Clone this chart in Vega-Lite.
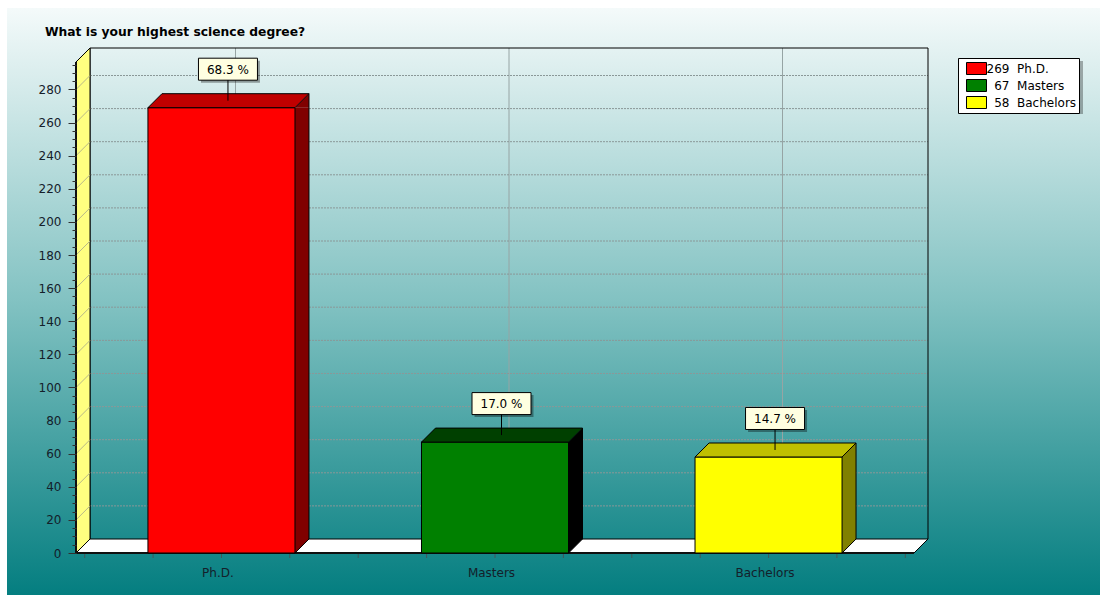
{
  "$schema": "https://vega.github.io/schema/vega-lite/v6.json",
  "width": 838,
  "height": 491,
  "autosize": {"type": "none"},
  "padding": {"left": 90, "top": 48, "right": 172, "bottom": 56},
  "background": "#ffffff",
  "view": {"stroke": null},
  "config": {"font": "DejaVu Sans"},
  "data": {"values": [
    {"degree": "Ph.D.", "count": 269, "pct": 68.3},
    {"degree": "Masters", "count": 67, "pct": 17.0},
    {"degree": "Bachelors", "count": 58, "pct": 14.7}
  ]},
  "resolve": {"scale": {"fill": "independent"}, "axis": {"y": "independent"}},
  "layer": [
    {
      "data": {"values": [{}]},
      "mark": {"type": "point", "shape": "M-502,-531H591V56H-502Z", "size": 4, "filled": true, "opacity": 1, "strokeWidth": 0,
        "fill": {"gradient": "linear", "x1": 0, "y1": 0, "x2": 0, "y2": 1,
          "stops": [{"offset": 0, "color": "#F4FAFA"}, {"offset": 0.5, "color": "#82C2C2"}, {"offset": 1, "color": "#047E80"}]}},
      "encoding": {"x": {"datum": "Masters", "type": "nominal", "axis": null}, "y": {"datum": 0, "type": "quantitative", "axis": null}}
    },
    {
      "data": {"values": [{}]},
      "mark": {"type": "point", "shape": "M-273.5,0V-491M0,0V-491M273.5,0V-491", "size": 4, "filled": false, "opacity": 1, "stroke": "#96A4A4", "strokeWidth": 1},
      "encoding": {"x": {"datum": "Masters", "type": "nominal", "axis": null}, "y": {"datum": 0, "type": "quantitative", "axis": null}}
    },
    {
      "data": {"values": [{}]},
      "mark": {"type": "point", "shape": "M-419,-33.1H419M-419,-66.2H419M-419,-99.3H419M-419,-132.4H419M-419,-165.5H419M-419,-198.6H419M-419,-231.8H419M-419,-264.9H419M-419,-298H419M-419,-331.1H419M-419,-364.2H419M-419,-397.3H419M-419,-430.4H419M-419,-463.5H419", "size": 4, "filled": false, "opacity": 1, "stroke": "#8A9898", "strokeWidth": 1, "strokeDash": [2, 1]},
      "encoding": {"x": {"datum": "Masters", "type": "nominal", "axis": null}, "y": {"datum": 0, "type": "quantitative", "axis": null}}
    },
    {
      "data": {"values": [{}]},
      "mark": {"type": "point", "shape": "M-419,0V-491H419V0", "size": 4, "filled": false, "opacity": 1, "stroke": "#000000", "strokeWidth": 1},
      "encoding": {"x": {"datum": "Masters", "type": "nominal", "axis": null}, "y": {"datum": 0, "type": "quantitative", "axis": null}}
    },
    {
      "data": {"values": [{}]},
      "mark": {"type": "point", "shape": "M-419,0V-491L-433,-477V14Z", "size": 4, "filled": true, "opacity": 1, "fill": "#FFFF80", "stroke": "#000000", "strokeWidth": 1},
      "encoding": {"x": {"datum": "Masters", "type": "nominal", "axis": null}, "y": {"datum": 0, "type": "quantitative", "axis": null}}
    },
    {
      "data": {"values": [{}]},
      "mark": {"type": "point", "shape": "M-419,-33.1L-433,-19.1M-419,-66.2L-433,-52.2M-419,-99.3L-433,-85.3M-419,-132.4L-433,-118.4M-419,-165.5L-433,-151.5M-419,-198.6L-433,-184.6M-419,-231.8L-433,-217.8M-419,-264.9L-433,-250.9M-419,-298L-433,-284M-419,-331.1L-433,-317.1M-419,-364.2L-433,-350.2M-419,-397.3L-433,-383.3M-419,-430.4L-433,-416.4M-419,-463.5L-433,-449.5", "size": 4, "filled": false, "opacity": 1, "stroke": "#B8B888", "strokeWidth": 1},
      "encoding": {"x": {"datum": "Masters", "type": "nominal", "axis": null}, "y": {"datum": 0, "type": "quantitative", "axis": null}}
    },
    {
      "data": {"values": [{}]},
      "mark": {"type": "point", "shape": "M-419,0H419L405,14H-433Z", "size": 4, "filled": true, "opacity": 1, "fill": "#FFFFFF", "stroke": "#000000", "strokeWidth": 1},
      "encoding": {"x": {"datum": "Masters", "type": "nominal", "axis": null}, "y": {"datum": 0, "type": "quantitative", "axis": null}}
    },
    {
      "data": {"values": [{}]},
      "mark": {"type": "point", "shape": "M-433,-477V14H405", "size": 4, "filled": false, "opacity": 1, "stroke": "#101010", "strokeWidth": 2},
      "encoding": {"x": {"datum": "Masters", "type": "nominal", "axis": null}, "y": {"datum": 0, "type": "quantitative", "axis": null}}
    },
    {
      "data": {"values": [{}]},
      "mark": {"type": "point", "shape": "M-424.3,15V19M-355.9,15V19M-287.5,15V19M-219.2,15V19M-150.8,15V19M-82.4,15V19M-14,15V19M54.4,15V19M122.8,15V19M191.2,15V19M259.6,15V19M327.9,15V19M396.3,15V19", "size": 4, "filled": false, "opacity": 1, "stroke": "#40585A", "strokeWidth": 1},
      "encoding": {"x": {"datum": "Masters", "type": "nominal", "axis": null}, "y": {"datum": 0, "type": "quantitative", "axis": null}}
    },
    {
      "data": {"values": [{}]},
      "mark": {"type": "point", "shape": "M452,-478H574V-425H452Z", "size": 4, "filled": true, "opacity": 0.3, "fill": "#000000", "strokeWidth": 0},
      "encoding": {"x": {"datum": "Masters", "type": "nominal", "axis": null}, "y": {"datum": 0, "type": "quantitative", "axis": null}}
    },
    {
      "mark": {"type": "bar", "width": 14, "xOffset": 66.5, "yOffset": 14},
      "encoding": {
        "x": {"field": "degree", "type": "nominal", "sort": null,
          "scale": {"domain": ["Ph.D.", "Masters", "Bachelors"], "paddingInner": 0.4625, "paddingOuter": 0.263}, "axis": null},
        "y": {"field": "count", "type": "quantitative", "scale": {"domain": [0, 296.6], "nice": false, "zero": false},
          "axis": {"orient": "left", "values": [0,5,10,15,20,25,30,35,40,45,50,55,60,65,70,75,80,85,90,95,100,105,110,115,120,125,130,135,140,145,150,155,160,165,170,175,180,185,190,195,200,205,210,215,220,225,230,235,240,245,250,255,260,265,270,275,280,285,290,295],
            "offset": 14, "tickOffset": 14, "tickSize": 4, "tickColor": "#303030", "labels": false, "domain": false, "grid": false, "title": null, "zindex": 1}},
        "y2": {"datum": 0},
        "fill": {"field": "degree", "type": "nominal", "sort": null,
          "scale": {"domain": ["Ph.D.", "Masters", "Bachelors"], "range": ["#800000", "#000000", "#808000"]}, "legend": null}
      }
    },
    {
      "mark": {"type": "point", "shape": "M59.5,14L73.5,0V14Z", "size": 4, "filled": true, "opacity": 1, "strokeWidth": 0},
      "encoding": {
        "x": {"field": "degree", "type": "nominal", "sort": null, "axis": null},
        "y": {"field": "count", "type": "quantitative", "axis": null},
        "fill": {"field": "degree", "type": "nominal", "sort": null,
          "scale": {"domain": ["Ph.D.", "Masters", "Bachelors"], "range": ["#800000", "#000000", "#808000"]}, "legend": null}
      }
    },
    {
      "mark": {"type": "point", "shape": "M59.5,0V14L73.5,0Z", "size": 4, "filled": true, "opacity": 1, "strokeWidth": 0},
      "encoding": {
        "x": {"field": "degree", "type": "nominal", "sort": null, "axis": null},
        "y": {"datum": 0, "type": "quantitative", "axis": null},
        "fill": {"field": "degree", "type": "nominal", "sort": null,
          "scale": {"domain": ["Ph.D.", "Masters", "Bachelors"], "range": ["#800000", "#000000", "#808000"]}, "legend": null}
      }
    },
    {
      "transform": [{"calculate": "'\u200b' + (datum.count < 100 ? '\u2007' : '') + datum.count + '\u00a0\u00a0' + datum.degree", "as": "legendLabel"}],
      "mark": {"type": "bar", "xOffset": -14, "yOffset": 14, "y2Offset": 14, "stroke": "#000000", "strokeWidth": 1},
      "encoding": {
        "x": {"field": "degree", "type": "nominal", "sort": null, "axis": null},
        "y": {"field": "count", "type": "quantitative", "axis": null},
        "y2": {"datum": 0},
        "color": {"field": "legendLabel", "type": "nominal", "sort": null,
          "scale": {"range": ["#FF0000", "#008000", "#FFFF00"]},
          "legend": {"orient": "none", "legendX": 868, "legendY": 10, "title": null, "padding": 2,
            "fillColor": "#FFFFFF", "strokeColor": "#000000",
            "symbolType": "M-1.25,-0.75H1.25V0.75H-1.25Z", "symbolSize": 256, "symbolOffset": 8, "symbolStrokeColor": "#000000", "symbolStrokeWidth": 1, "symbolOpacity": 1,
            "labelFont": "DejaVu Sans", "labelFontSize": 12, "labelColor": "#000000", "labelOffset": 1.5, "rowPadding": 0, "labelLimit": 300}}
      }
    },
    {
      "mark": {"type": "point", "shape": "M-73.5,0H73.5L59.5,14H-87.5Z", "size": 4, "filled": true, "opacity": 1, "stroke": "#000000", "strokeWidth": 1},
      "encoding": {
        "x": {"field": "degree", "type": "nominal", "sort": null, "axis": null},
        "y": {"field": "count", "type": "quantitative",
          "axis": {"orient": "left", "values": [0,20,40,60,80,100,120,140,160,180,200,220,240,260,280], "offset": 14, "tickOffset": 14, "tickSize": 8, "tickColor": "#303030",
            "labelPadding": 7, "labelFont": "DejaVu Sans", "labelFontSize": 12, "labelColor": "#14202A", "labelOverlap": false, "labelFlush": false, "labelBound": false,
            "domain": false, "grid": false, "title": null, "zindex": 1}},
        "fill": {"field": "degree", "type": "nominal", "sort": null,
          "scale": {"domain": ["Ph.D.", "Masters", "Bachelors"], "range": ["#C00000", "#004000", "#C0C000"]}, "legend": null}
      }
    },
    {
      "mark": {"type": "rule", "xOffset": 73.5, "stroke": "#000000", "strokeWidth": 1},
      "encoding": {
        "x": {"field": "degree", "type": "nominal", "sort": null, "axis": null},
        "y": {"field": "count", "type": "quantitative", "axis": null},
        "y2": {"datum": 0}
      }
    },
    {
      "mark": {"type": "point", "shape": "M59.5,14L73.5,0", "size": 4, "filled": false, "opacity": 1, "stroke": "#000000", "strokeWidth": 1},
      "encoding": {
        "x": {"field": "degree", "type": "nominal", "sort": null, "axis": null},
        "y": {"datum": 0, "type": "quantitative", "axis": null}
      }
    },
    {
      "mark": {"type": "text", "xOffset": -17.5, "yOffset": 38, "align": "center", "baseline": "alphabetic", "font": "DejaVu Sans", "fontSize": 12, "color": "#14202A"},
      "encoding": {
        "x": {"field": "degree", "type": "nominal", "sort": null, "axis": null},
        "y": {"datum": 0, "type": "quantitative", "axis": null},
        "text": {"field": "degree"}
      }
    },
    {
      "mark": {"type": "point", "shape": "M-29.5,-11H29.5V11H-29.5Z", "size": 4, "filled": true, "opacity": 0.35, "fill": "#000000", "strokeWidth": 0, "xOffset": -5, "yOffset": -22},
      "encoding": {
        "x": {"field": "degree", "type": "nominal", "sort": null, "axis": null},
        "y": {"field": "count", "type": "quantitative", "axis": null}
      }
    },
    {
      "mark": {"type": "point", "shape": "M-29.5,-11H29.5V11H-29.5Z", "size": 4, "filled": true, "opacity": 1, "fill": "#FFFFE1", "stroke": "#000000", "strokeWidth": 1, "xOffset": -7.5, "yOffset": -24.5},
      "encoding": {
        "x": {"field": "degree", "type": "nominal", "sort": null, "axis": null},
        "y": {"field": "count", "type": "quantitative", "axis": null}
      }
    },
    {
      "mark": {"type": "rule", "xOffset": -7.5, "yOffset": -13.5, "y2Offset": 7, "stroke": "#000000", "strokeWidth": 1},
      "encoding": {
        "x": {"field": "degree", "type": "nominal", "sort": null, "axis": null},
        "y": {"field": "count", "type": "quantitative", "axis": null},
        "y2": {"field": "count"}
      }
    },
    {
      "transform": [{"calculate": "format(datum.pct, '.1f') + ' %'", "as": "pctLabel"}],
      "mark": {"type": "text", "xOffset": -7.5, "yOffset": -24, "align": "center", "baseline": "middle", "font": "DejaVu Sans", "fontSize": 12, "color": "#000000"},
      "encoding": {
        "x": {"field": "degree", "type": "nominal", "sort": null, "axis": null},
        "y": {"field": "count", "type": "quantitative", "axis": null},
        "text": {"field": "pctLabel"}
      }
    },
    {
      "data": {"values": [{}]},
      "mark": {"type": "text", "text": "What is your highest science degree?", "xOffset": -190.5, "align": "left", "baseline": "alphabetic", "font": "DejaVu Sans", "fontWeight": "bold", "fontSize": 12.3, "color": "#000000"},
      "encoding": {"x": {"datum": "Ph.D.", "type": "nominal", "axis": null}, "y": {"datum": 303.9, "type": "quantitative", "axis": null}}
    }
  ]
}
